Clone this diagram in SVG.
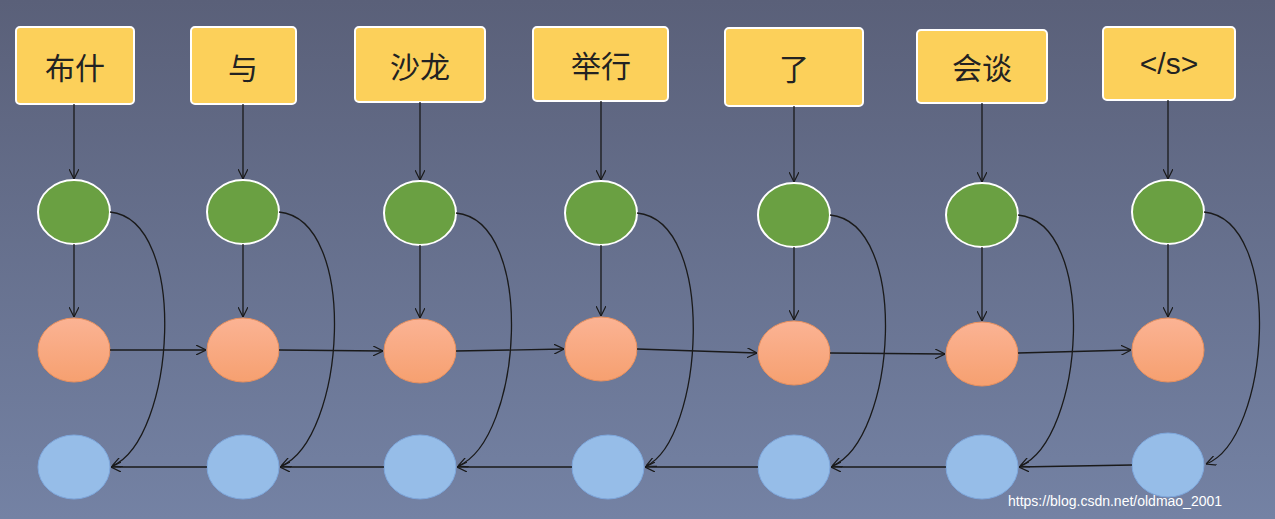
<svg xmlns="http://www.w3.org/2000/svg" width="1275" height="519" viewBox="0 0 1275 519">
<defs>
<linearGradient id="bg" x1="0" y1="0" x2="0" y2="1"><stop offset="0" stop-color="#5a6079"/><stop offset="1" stop-color="#7482a4"/></linearGradient>
<linearGradient id="og" x1="0" y1="0" x2="0" y2="1"><stop offset="0" stop-color="#fbb394"/><stop offset="1" stop-color="#f6a070"/></linearGradient>
<marker id="a" viewBox="0 0 10 10" refX="10" refY="5" markerWidth="10" markerHeight="10" markerUnits="userSpaceOnUse" orient="auto"><path d="M0,0 L10,5 L0,10" fill="none" stroke="#1a1a1a" stroke-width="1.2"/></marker>
<style>
.box{fill:#fcd05a;stroke:#fff;stroke-width:2}
.t{font-family:"Noto Sans CJK SC","Liberation Sans",sans-serif;font-size:30px;fill:#222;text-anchor:middle;dominant-baseline:central}
.g{fill:#6aa042;stroke:#fff;stroke-width:2}
.o{fill:url(#og);stroke:#e8905e;stroke-width:1}
.b{fill:#96bde8;stroke:#7ea7dc;stroke-width:1}
.c path{fill:none;stroke:#1a1a1a;stroke-width:1.3;marker-end:url(#a)}
</style>
</defs>
<rect width="1275" height="519" fill="url(#bg)"/>
<g id="w1"><rect class="box" x="16" y="27" width="118" height="77" rx="4"/><text class="t" x="75" y="66">布什</text></g>
<g id="w2"><rect class="box" x="191" y="27" width="105" height="77" rx="4"/><text class="t" x="243" y="66">与</text></g>
<g id="w3"><rect class="box" x="355" y="27" width="130" height="75" rx="4"/><text class="t" x="420" y="65">沙龙</text></g>
<g id="w4"><rect class="box" x="533" y="27" width="135" height="74" rx="4"/><text class="t" x="601" y="64">举行</text></g>
<g id="w5"><rect class="box" x="725" y="28" width="138" height="78" rx="4"/><text class="t" x="794" y="67">了</text></g>
<g id="w6"><rect class="box" x="917" y="30" width="130" height="73" rx="4"/><text class="t" x="982" y="66">会谈</text></g>
<g id="w7"><rect class="box" x="1103" y="27" width="132" height="73" rx="4"/><text class="t" x="1169" y="63" style="font-family:'Liberation Sans',sans-serif">&lt;/s&gt;</text></g>
<g id="g1"><ellipse class="g" cx="74" cy="212" rx="36" ry="32"/></g>
<g id="g2"><ellipse class="g" cx="243" cy="212" rx="36" ry="32"/></g>
<g id="g3"><ellipse class="g" cx="420" cy="213" rx="36" ry="32"/></g>
<g id="g4"><ellipse class="g" cx="601" cy="213" rx="36" ry="32"/></g>
<g id="g5"><ellipse class="g" cx="794" cy="215" rx="36" ry="32"/></g>
<g id="g6"><ellipse class="g" cx="982" cy="215" rx="36" ry="32"/></g>
<g id="g7"><ellipse class="g" cx="1168" cy="212" rx="36" ry="32"/></g>
<g id="o1"><ellipse class="o" cx="74" cy="350" rx="36" ry="32"/></g>
<g id="o2"><ellipse class="o" cx="243" cy="350" rx="36" ry="32"/></g>
<g id="o3"><ellipse class="o" cx="420" cy="351" rx="36" ry="32"/></g>
<g id="o4"><ellipse class="o" cx="601" cy="349" rx="36" ry="32"/></g>
<g id="o5"><ellipse class="o" cx="794" cy="353" rx="36" ry="32"/></g>
<g id="o6"><ellipse class="o" cx="982" cy="354" rx="36" ry="32"/></g>
<g id="o7"><ellipse class="o" cx="1168" cy="350" rx="36" ry="32"/></g>
<g id="b1"><ellipse class="b" cx="74" cy="467" rx="36" ry="32"/></g>
<g id="b2"><ellipse class="b" cx="243" cy="467" rx="36" ry="32"/></g>
<g id="b3"><ellipse class="b" cx="420" cy="467" rx="36" ry="32"/></g>
<g id="b4"><ellipse class="b" cx="608" cy="467" rx="36" ry="32"/></g>
<g id="b5"><ellipse class="b" cx="794" cy="467" rx="36" ry="32"/></g>
<g id="b6"><ellipse class="b" cx="982" cy="467" rx="36" ry="32"/></g>
<g id="b7"><ellipse class="b" cx="1168" cy="465" rx="36" ry="32"/></g>
<g class="c" id="connectors">
<path d="M74,104 V179"/><path d="M243,104 V179"/><path d="M420,102 V180"/><path d="M601,101 V180"/><path d="M794,106 V182"/><path d="M982,103 V182"/><path d="M1168,100 V179"/>
<path d="M74,244 V317"/><path d="M243,244 V317"/><path d="M420,245 V318"/><path d="M601,245 V316"/><path d="M794,247 V320"/><path d="M982,247 V321"/><path d="M1168,244 V317"/>
<path d="M110,350 L206,350"/><path d="M279,350 L383,351"/><path d="M456,351 L564,349"/><path d="M637,349 L757,353"/><path d="M830,353 L945,354"/><path d="M1018,353 L1131,350"/>
<path d="M1132,465 L1019,467"/><path d="M946,467 L831,467"/><path d="M758,467 L645,467"/><path d="M572,467 L457,467"/><path d="M384,467 L280,467"/><path d="M207,467 L111,467"/>
<path d="M110,212 C190,220 175,440 112,466"/>
<path d="M279,212 C360,220 345,440 281,466"/>
<path d="M456,213 C537,221 522,440 458,466"/>
<path d="M637,213 C718,221 703,440 646,466"/>
<path d="M830,215 C911,223 896,440 832,466"/>
<path d="M1018,215 C1099,223 1084,440 1020,466"/>
<path d="M1204,212 C1285,220 1270,440 1206,464"/>
</g>
<text x="1008" y="506" font-family="Liberation Sans, sans-serif" font-size="14" fill="#fff">https://blog.csdn.net/oldmao_2001</text>
</svg>
